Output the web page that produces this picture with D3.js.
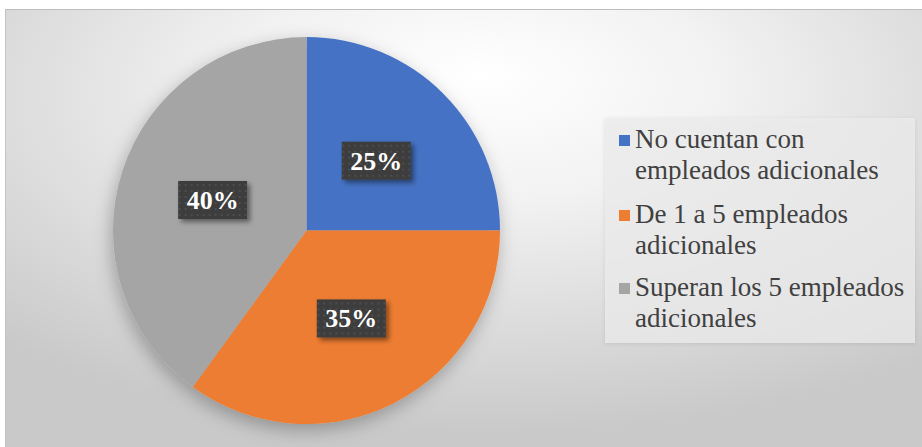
<!DOCTYPE html>
<html>
<head>
<meta charset="utf-8">
<script src="https://cdn.jsdelivr.net/npm/d3@7"></script>
<style>
  html, body { margin: 0; padding: 0; background: #ffffff; }
  svg { display: block; }
</style>
</head>
<body>
<svg id="chart" width="922" height="447"></svg>
<script>
// Distribución de negocios según empleados adicionales
const categories = [
  "No cuentan con empleados adicionales",
  "De 1 a 5 empleados adicionales",
  "Superan los 5 empleados adicionales"
];
const legendLines = [
  ["No cuentan con", "empleados adicionales"],
  ["De 1 a 5 empleados", "adicionales"],
  ["Superan los 5 empleados", "adicionales"]
];
const values = [25, 35, 40];
const colors = ["#4472C4", "#ED7D31", "#A5A5A5"];

// Pick the first installed serif face (Times-like preferred)
function pickSerif() {
  const cands = ["Liberation Serif", "Times New Roman", "Tinos", "Times", "DejaVu Serif", "Noto Serif", "FreeSerif"];
  const ctx = document.createElement("canvas").getContext("2d");
  const sample = "empleados adicionales 25%";
  ctx.font = "30px monospace";
  const base = ctx.measureText(sample).width;
  for (const f of cands) {
    ctx.font = `30px "${f}", monospace`;
    if (Math.abs(ctx.measureText(sample).width - base) > 0.5) return `"${f}", serif`;
  }
  return "serif";
}
const serifFont = pickSerif();

const svg = d3.select("#chart");
const W = 922, H = 447;
const defs = svg.append("defs");

// Chart area background: soft radial gradient
const bg = defs.append("radialGradient").attr("id", "bgGrad")
  .attr("cx", "52%").attr("cy", "22%").attr("r", "75%")
  .attr("fx", "52%").attr("fy", "15%");
bg.append("stop").attr("offset", "0%").attr("stop-color", "#ffffff");
bg.append("stop").attr("offset", "35%").attr("stop-color", "#f2f2f2");
bg.append("stop").attr("offset", "100%").attr("stop-color", "#c9c9c9");

// Pie drop shadow
const sh = defs.append("filter").attr("id", "pieShadow")
  .attr("x", "-30%").attr("y", "-30%").attr("width", "160%").attr("height", "160%");
sh.append("feDropShadow").attr("dx", -2).attr("dy", 6).attr("stdDeviation", 9)
  .attr("flood-color", "#000").attr("flood-opacity", 0.28);

// Label box shadow
const lsh = defs.append("filter").attr("id", "labelShadow")
  .attr("x", "-30%").attr("y", "-30%").attr("width", "160%").attr("height", "160%");
lsh.append("feDropShadow").attr("dx", 3).attr("dy", 3).attr("stdDeviation", 2.5)
  .attr("flood-color", "#000").attr("flood-opacity", 0.45);

// Dotted texture for label boxes
const pat = defs.append("pattern").attr("id", "dots")
  .attr("width", 6).attr("height", 6).attr("patternUnits", "userSpaceOnUse");
pat.append("rect").attr("width", 6).attr("height", 6).attr("fill", "#3d3d3d");
pat.append("circle").attr("cx", 3).attr("cy", 3).attr("r", 0.9).attr("fill", "#555555");

// Legend panel shadow
const gsh = defs.append("filter").attr("id", "legendShadow")
  .attr("x", "-10%").attr("y", "-10%").attr("width", "120%").attr("height", "120%");
gsh.append("feDropShadow").attr("dx", 0).attr("dy", 1).attr("stdDeviation", 2)
  .attr("flood-color", "#000").attr("flood-opacity", 0.12);

// Chart frame
svg.append("rect").attr("x", 5).attr("y", 9).attr("width", W - 5).attr("height", H - 9)
  .attr("fill", "url(#bgGrad)");
svg.append("line").attr("x1", 5).attr("x2", W).attr("y1", 9.5).attr("y2", 9.5)
  .attr("stroke", "#bdbdbd").attr("stroke-width", 1);
svg.append("line").attr("x1", 5.5).attr("x2", 5.5).attr("y1", 9).attr("y2", H)
  .attr("stroke", "#c4c4c4").attr("stroke-width", 1);

// Pie
const cx = 306.5, cy = 230.5, R = 193.5;
const pie = d3.pie().sort(null).value(d => d)(values);
const arc = d3.arc().innerRadius(0).outerRadius(R);
const labelArc = d3.arc().innerRadius(R * 0.51).outerRadius(R * 0.51);

const g = svg.append("g").attr("transform", `translate(${cx},${cy})`);
g.append("g").attr("filter", "url(#pieShadow)")
  .selectAll("path").data(pie).join("path")
  .attr("d", arc)
  .attr("fill", (d, i) => colors[i]);

// Data labels
const fmt = d => `${d}%`;
const lab = g.selectAll("g.lab").data(pie).join("g").attr("class", "lab")
  .attr("transform", d => `translate(${labelArc.centroid(d)})`);
lab.append("rect")
  .attr("x", -34.5).attr("y", -19).attr("width", 69).attr("height", 38)
  .attr("fill", "url(#dots)")
  .attr("filter", "url(#labelShadow)");
lab.append("text")
  .attr("text-anchor", "middle").attr("dy", "0.34em")
  .style("font-family", serifFont)
  .style("font-weight", "bold").style("font-size", "26px")
  .attr("fill", "#ffffff")
  .text(d => fmt(d.data));

// Legend
const lg = svg.append("g");
lg.append("rect").attr("x", 605).attr("y", 118).attr("width", 310).attr("height", 225)
  .attr("fill", "#ececec").attr("fill-opacity", 0.75)
  .attr("filter", "url(#legendShadow)");

const groupTop = [148, 223, 296];
const lineH = 31;
const items = lg.selectAll("g.item").data(categories).join("g").attr("class", "item");
items.append("rect")
  .attr("x", 619).attr("y", (d, i) => groupTop[i] - 13)
  .attr("width", 11).attr("height", 11)
  .attr("fill", (d, i) => colors[i]);
items.each(function(d, i) {
  const t = d3.select(this).append("text")
    .style("font-family", serifFont)
    .style("font-size", "27px")
    .attr("fill", "#404040");
  legendLines[i].forEach((ln, j) => {
    t.append("tspan").attr("x", 635).attr("y", groupTop[i] + j * lineH).text(ln);
  });
});
</script>
</body>
</html>
